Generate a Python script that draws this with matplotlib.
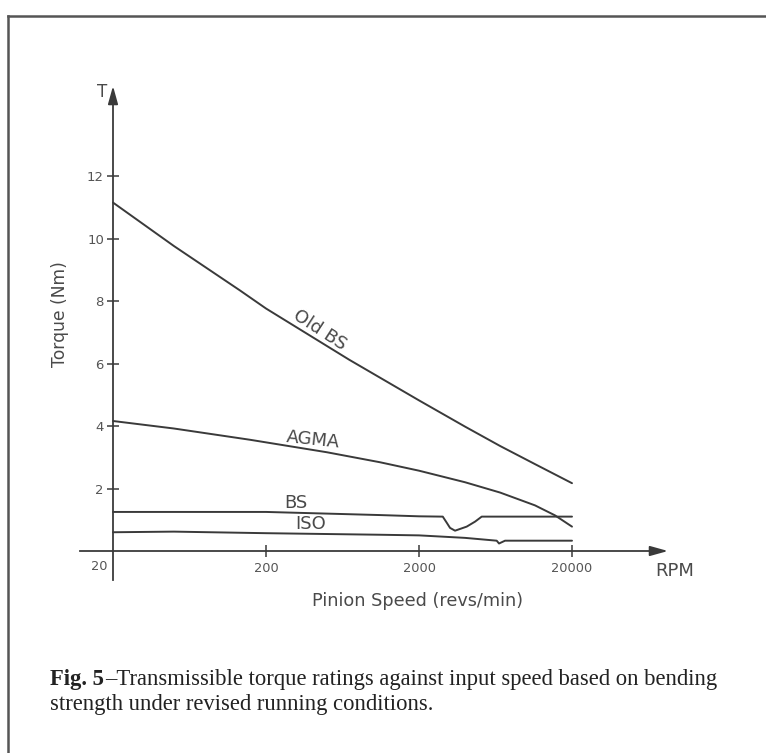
import numpy as np
import matplotlib
matplotlib.use("Agg")
from matplotlib import pyplot as plt
from matplotlib.lines import Line2D
from matplotlib.ticker import NullLocator, FixedLocator, FixedFormatter

plt.rcParams['font.family'] = ['DejaVu Sans']

# curves: pinion speed (rpm) vs torque (Nm)
rpm_old_bs = [20, 50, 135, 200, 700, 2000, 4000, 6780, 11460, 20000]
torque_old_bs = [11.15, 9.76, 8.34, 7.76, 6.12, 4.82, 3.98, 3.36, 2.78, 2.17]

rpm_agma = [20, 50, 157, 500, 1112, 2000, 4000, 6780, 11460, 15490, 20000]
torque_agma = [4.16, 3.92, 3.56, 3.16, 2.84, 2.57, 2.2, 1.87, 1.46, 1.14, 0.78]

rpm_bs = [20, 200, 1112, 2000, 2860, 3050, 3190, 3440, 4100, 4650, 5140, 20000]
torque_bs = [1.25, 1.25, 1.15, 1.11, 1.1, 0.89, 0.74, 0.65, 0.78, 0.94, 1.1, 1.1]

rpm_iso = [20, 50, 200, 1112, 2000, 4000, 6440, 6670, 7300, 20000]
torque_iso = [0.6, 0.62, 0.57, 0.52, 0.5, 0.42, 0.33, 0.24, 0.33, 0.33]

y_ticks = [2, 4, 6, 8, 10, 12]
x_ticks = [200, 2000, 20000]
x_tick_labels = ['200', '2000', '20000']

W, H = 766, 753
LINE = '#3a3a3a'
TXT = '#4a4a4a'


# pixel -> data helpers (used for layout only)
def px_x(px):
    return 20 * 10 ** ((px - 113) / 153.0)


def px_y(py):
    return (551 - py) / 31.25


fig = plt.figure(figsize=(W / 100, H / 100), dpi=100)
ax = fig.add_axes([0, 0, 1, 1])
ax.set_xscale('log')
ax.set_xlim(px_x(0), px_x(W))
ax.set_ylim(px_y(H), px_y(0))
ax.patch.set_alpha(0)

for name in ['top', 'right']:
    ax.spines[name].set_visible(False)
ax.spines['left'].set_position(('data', 20))
ax.spines['bottom'].set_position(('data', 0))
ax.spines['left'].set_bounds(px_y(580), px_y(92))
ax.spines['bottom'].set_bounds(px_x(80), px_x(660))
for name in ['left', 'bottom']:
    ax.spines[name].set_color(LINE)
    ax.spines[name].set_linewidth(1.3)

ax.yaxis.set_major_locator(FixedLocator(y_ticks))
ax.xaxis.set_major_locator(FixedLocator(x_ticks))
ax.xaxis.set_major_formatter(FixedFormatter(x_tick_labels))
ax.xaxis.set_minor_locator(NullLocator())
ax.yaxis.set_minor_locator(NullLocator())
ax.tick_params(axis='y', direction='inout', length=9, width=1.1, color=LINE,
               labelsize=9.5, labelcolor='#555555', pad=2)
ax.tick_params(axis='x', direction='inout', length=8, width=1.1, color=LINE,
               labelsize=9.3, labelcolor='#555555', pad=4)

# arrow heads
arrow = dict(arrowstyle='-|>,head_length=0.9,head_width=0.25', color=LINE,
             lw=1.3, shrinkA=0, shrinkB=0, mutation_scale=12)
ax.annotate('', xy=(20, px_y(86)), xytext=(20, px_y(100)), arrowprops=arrow)
ax.annotate('', xy=(px_x(668), 0), xytext=(px_x(650), 0), arrowprops=arrow)

# curves
for r, t in [(rpm_old_bs, torque_old_bs), (rpm_agma, torque_agma),
             (rpm_bs, torque_bs), (rpm_iso, torque_iso)]:
    ax.plot(r, t, color=LINE, lw=1.4, solid_capstyle='round')

# curve labels
ax.text(px_x(320), px_y(330), 'Old BS', rotation=-33, fontsize=13,
        color=TXT, ha='center', va='center')
ax.text(px_x(313), px_y(440), 'AGMA', rotation=-6, fontsize=13,
        color=TXT, ha='center', va='center')
ax.text(px_x(296), px_y(503), 'BS', fontsize=13, color=TXT,
        ha='center', va='center')
ax.text(px_x(311), px_y(524), 'ISO', fontsize=13, color=TXT,
        ha='center', va='center')

# axis annotations
ax.text(px_x(102), px_y(92), 'T', fontsize=12, color=TXT, ha='center', va='center')
ax.text(px_x(107), px_y(567), '20', fontsize=9.3, color='#555555',
        ha='right', va='center')
ax.text(px_x(675), px_y(571), 'RPM', fontsize=13, color=TXT, ha='center', va='center')
ax.text(px_x(60), px_y(314), 'Torque (Nm)', rotation=90, fontsize=12.3,
        color=TXT, ha='center', va='center')
ax.text(px_x(418), px_y(601), 'Pinion Speed (revs/min)', fontsize=12.7,
        color=TXT, ha='center', va='center')

# page frame (top and left edges of the scanned box)
fig.add_artist(Line2D([8 / W, 1], [1 - 16 / H, 1 - 16 / H], color='#555555', lw=1.8))
fig.add_artist(Line2D([8 / W, 8 / W], [1 - 16 / H, 0], color='#555555', lw=1.8))

# caption
serif = ['Liberation Serif', 'DejaVu Serif']
renderer = fig.canvas.get_renderer()
t1 = fig.text(50 / W, 1 - 685 / H, 'Fig. 5', fontsize=16.3, fontweight='bold',
              family=serif, color='#222222', va='baseline')
bb = t1.get_window_extent(renderer)
fig.text(bb.x1 / W + 1.5 / W, 1 - 685 / H,
         '\u2013Transmissible torque ratings against input speed based on bending',
         fontsize=16.3, family=serif, color='#222222', va='baseline')
fig.text(50 / W, 1 - 710 / H, 'strength under revised running conditions.',
         fontsize=16.3, family=serif, color='#222222', va='baseline')

fig.savefig('out.png', dpi=100, facecolor='white')
